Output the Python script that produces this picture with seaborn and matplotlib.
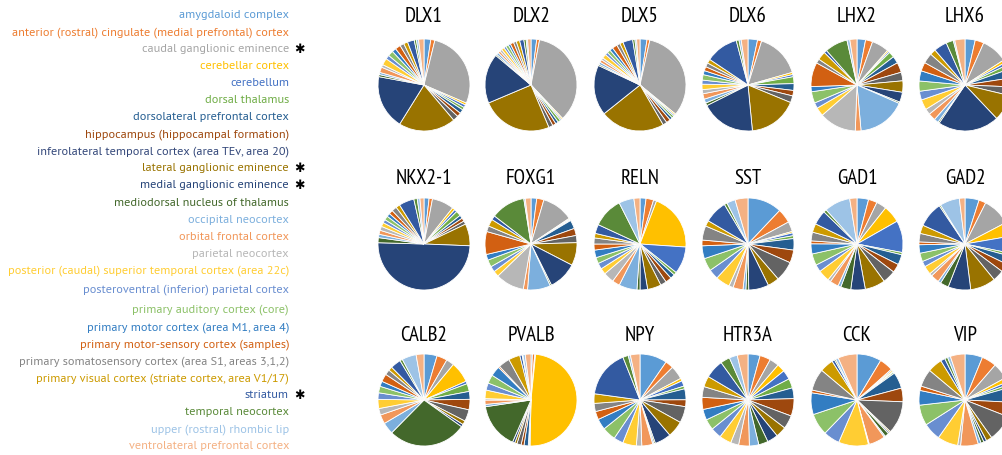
import matplotlib
matplotlib.use("Agg")
import matplotlib.pyplot as plt
import seaborn as sns

# Brain regions, in the order the wedges are drawn (clockwise from 12 o'clock)
regions = [
    "amygdaloid complex",
    "anterior (rostral) cingulate (medial prefrontal) cortex",
    "caudal ganglionic eminence",
    "cerebellar cortex",
    "cerebellum",
    "dorsal thalamus",
    "dorsolateral prefrontal cortex",
    "hippocampus (hippocampal formation)",
    "inferolateral temporal cortex (area TEv, area 20)",
    "lateral ganglionic eminence",
    "medial ganglionic eminence",
    "mediodorsal nucleus of thalamus",
    "occipital neocortex",
    "orbital frontal cortex",
    "parietal neocortex",
    "posterior (caudal) superior temporal cortex (area 22c)",
    "posteroventral (inferior) parietal cortex",
    "primary auditory cortex (core)",
    "primary motor cortex (area M1, area 4)",
    "primary motor-sensory cortex (samples)",
    "primary somatosensory cortex (area S1, areas 3,1,2)",
    "primary visual cortex (striate cortex, area V1/17)",
    "striatum",
    "temporal neocortex",
    "upper (rostral) rhombic lip",
    "ventrolateral prefrontal cortex",
]

# Regions flagged with an asterisk
flagged = [
    "caudal ganglionic eminence",
    "lateral ganglionic eminence",
    "medial ganglionic eminence",
    "striatum",
]

region_colors = [
    "#5B9BD5", "#ED7D31", "#A5A5A5", "#FFC000", "#4472C4", "#70AD47",
    "#255E91", "#9E480E", "#636363", "#997300", "#264478", "#43682B",
    "#7CAFDD", "#F1975A", "#B7B7B7", "#FFCD33", "#698ED0", "#8CC168",
    "#327DC2", "#D26012", "#848484", "#CC9A00", "#335AA1", "#5A8A39",
    "#9DC3E6", "#F4B183",
]

label_colors = list(region_colors)
label_colors[8] = "#34487A"

genes = ["DLX1", "DLX2", "DLX5", "DLX6", "LHX2", "LHX6",
         "NKX2-1", "FOXG1", "RELN", "SST", "GAD1", "GAD2",
         "CALB2", "PVALB", "NPY", "HTR3A", "CCK", "VIP"]

# Expression share per region (percent), same order as `regions`
DLX1 = [2.5, 1.5, 29, 0.8, 1, 1, 1.5, 1.5, 2, 21, 20, 0.8, 0.8,
        2, 1, 2.5, 1.5, 2, 1.5, 2, 1.5, 1.5, 2.5, 0.8, 0.8, 2]
DLX2 = [2, 1, 35, 0.5, 0.5, 1, 1, 1.2, 1.5, 25, 17.5, 0.5, 0.8,
        0.8, 0.8, 1, 0.8, 1, 0.8, 1.2, 1, 1.2, 1.5, 0.8, 0.5, 1.2]
DLX5 = [2.5, 1, 33, 0.5, 0.5, 0.8, 1, 1.5, 1.5, 23, 18, 0.5, 0.8,
        1, 0.8, 1.5, 1, 1.2, 1.2, 1.8, 1.2, 1.2, 3.5, 0.8, 0.6, 1.2]
DLX6 = [3.5, 1.5, 16.5, 0.8, 0.8, 2.5, 2.5, 2, 2.5, 18, 20, 1, 1.5,
        2, 1.5, 2, 1.5, 2, 1.5, 1.5, 1.5, 1.5, 12, 1, 0.8, 2.5]
LHX2 = [3, 2.5, 6, 0.5, 0.5, 2, 2.5, 3.5, 3, 4, 3.5, 0.5, 17,
        2, 13, 3, 2, 4, 1.8, 8.5, 1.5, 3, 1, 8, 1, 2.5]
LHX6 = [3.5, 3, 9, 1, 1, 1.5, 3, 3, 3, 9, 21, 0.5, 1.5,
        2.5, 2, 3.5, 3, 3.5, 3.5, 3, 3.5, 2, 4.5, 2.5, 0.5, 3.5]
NKX2_1 = [1.5, 1, 6.5, 0.8, 0.8, 1.5, 1, 1, 1, 6.5, 42, 1.5, 1,
          1.2, 1.2, 1.2, 1, 1.2, 1, 1.2, 1.5, 1.2, 4.5, 1, 0.8, 1.2]
FOXG1 = [2, 2.5, 11, 0.3, 0.3, 0.3, 3, 2.5, 2.5, 8, 10, 0.5, 8,
         1.5, 10, 2, 2, 2.5, 2, 8, 2, 2.5, 1.5, 12, 0.5, 2]
RELN = [2, 2.5, 1, 19, 9, 1, 1.5, 2, 2, 4.5, 2.5, 1, 6,
        2.5, 3.5, 2, 2, 2, 2.5, 2, 2, 1.5, 3, 10, 5, 2]
SST = [12, 5, 3.5, 0.5, 1, 1, 4, 4.5, 7, 4, 7, 1, 1,
       3.5, 1.5, 5, 3.5, 4.5, 4.5, 2, 5, 2, 8, 1, 3, 4.5]
GAD1 = [4, 3, 3.5, 6, 11, 0.8, 3.5, 3, 4.5, 7, 5, 3.5, 1,
        3, 1, 4, 2.5, 4, 3.5, 1, 3, 3, 5, 1, 9, 2.5]
GAD2 = [5, 2.5, 10, 5, 6, 1, 3, 3, 4, 9, 8, 3, 1,
        3, 1, 3, 2, 3, 3, 1, 3, 3, 9, 0.5, 7, 2]
CALB2 = [5, 4, 3, 8, 1, 3, 3, 4, 4.5, 1.5, 1, 30, 4.5,
         3.5, 2.5, 3.5, 2.5, 2.5, 2, 3, 2, 1.5, 4, 1, 5.5, 3]
PVALB = [0.5, 0.8, 0.3, 48.5, 0.3, 0.3, 1.5, 1, 1.5, 0.8, 0.8, 16, 0.8,
         1.5, 0.5, 3, 2.5, 3, 3.5, 0.5, 4, 4, 0.8, 0.3, 0.8, 2]
NPY = [10, 3, 5, 1, 2, 1, 4, 2.5, 6, 6, 6, 0.5, 0.5,
       4, 2, 5, 3.5, 5, 4, 3, 3, 3.5, 17.5, 2, 0.8, 3.5]
HTR3A = [4.5, 4, 3.5, 3, 3.5, 3.5, 4, 6.5, 5, 4, 4, 3.5, 3.5,
         4, 3, 4.5, 4, 4, 4, 4.5, 4, 4, 7, 3.5, 3, 4]
CCK = [9, 5, 0.5, 0.5, 0.3, 0.5, 6, 5, 12, 0.5, 0.5, 1.5, 0.5,
       6, 0.3, 11, 6, 8, 8, 1, 8, 5, 1, 0.5, 1, 7]
VIP = [6, 5, 5.5, 1.5, 1, 1, 5, 5, 9, 2, 1, 1, 1,
       6, 1, 7, 6, 7, 5, 1.5, 6, 5, 1.5, 1, 1, 5]

shares = [DLX1, DLX2, DLX5, DLX6, LHX2, LHX6,
          NKX2_1, FOXG1, RELN, SST, GAD1, GAD2,
          CALB2, PVALB, NPY, HTR3A, CCK, VIP]

sns.set_theme(style="white")
key_font = ["PT Sans", "DejaVu Sans"]
title_font = ["PT Sans Narrow", "DejaVu Sans"]
plt.rcParams["font.family"] = key_font
palette = sns.color_palette(region_colors)

W, H = 1002, 456
fig = plt.figure(figsize=(W / 100, H / 100), dpi=100)
fig.patch.set_facecolor("white")
renderer = fig.canvas.get_renderer()


def fx(px):
    return px / W


def fy(py):
    return 1 - py / H


# Size the key so its longest entry spans the left column
probe = fig.text(0, 0, regions[1], fontsize=10, family=key_font)
key_size = 10 * 277 / probe.get_window_extent(renderer).width
probe.remove()

# Region key on the left: right-aligned names in their wedge colour
for i, (name, col) in enumerate(zip(regions, label_colors)):
    y = 15 + 17.05 * i + (2.2 if i == 16 else 0) + (5.15 if i >= 17 else 0)
    fig.text(fx(289), fy(y), name, ha="right", va="center",
             fontsize=key_size, color=col, family=key_font)
    if name in flagged:
        fig.text(fx(299), fy(y), "\u2731", ha="center", va="center",
                 fontsize=9, color="black", family=["DejaVu Sans"])

# Grid of pies, 6 per row
col_x = [424, 531, 640, 748, 857, 965]
row_y = [86, 245, 401]
title_y = [16, 179, 336]
R = 46
pad = 2
for k, (gene, vals) in enumerate(zip(genes, shares)):
    r, c = divmod(k, 6)
    cx, cy = col_x[c], row_y[r]
    ax = fig.add_axes([fx(cx - R - pad), fy(cy + R + pad),
                       2 * (R + pad) / W, 2 * (R + pad) / H])
    ax.pie(vals, colors=palette, startangle=90, counterclock=False,
           radius=1.0,
           wedgeprops=dict(edgecolor="white", linewidth=0.6))
    lim = (R + pad) / R
    ax.set_xlim(-lim, lim)
    ax.set_ylim(-lim, lim)
    ax.set_aspect("equal")
    ax.axis("off")
    fig.text(fx(cx), fy(title_y[r]), gene, ha="center", va="center",
             fontsize=15, color="black", family=title_font)

fig.savefig("out.png", dpi=100, facecolor="white")
